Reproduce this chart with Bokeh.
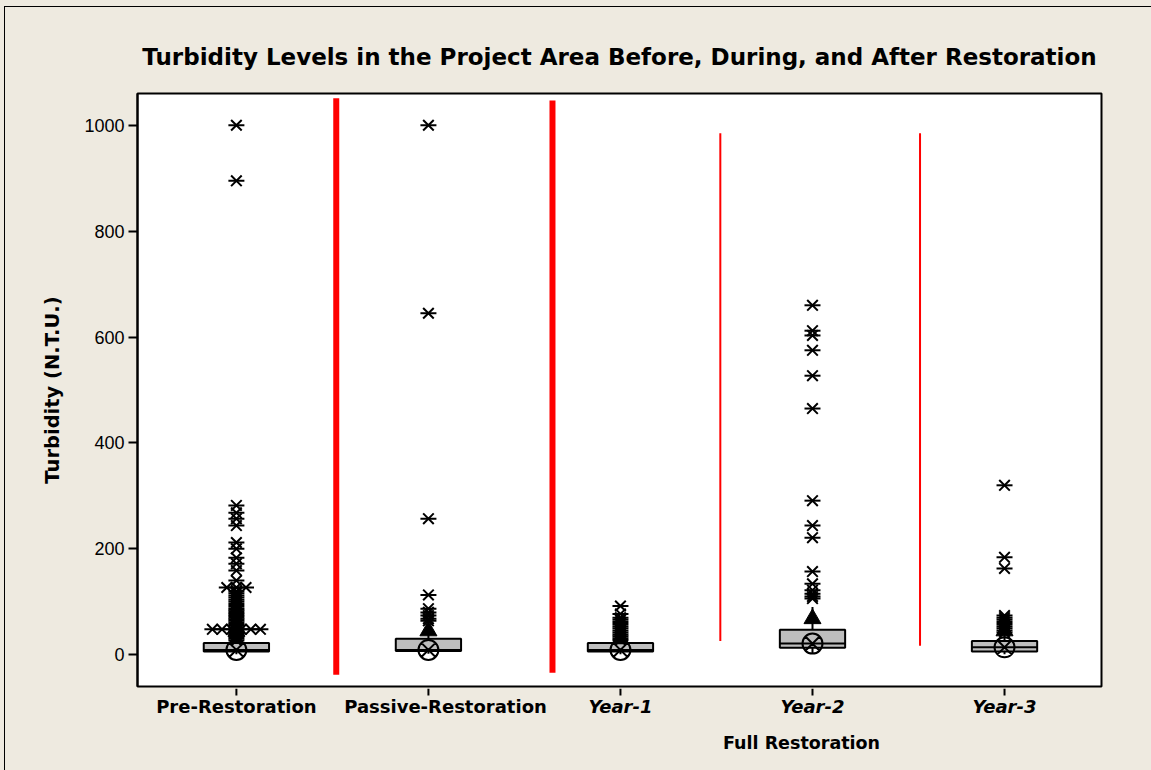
import math
from bokeh.plotting import figure
from bokeh.layouts import column, row
from bokeh.models import Range1d, FixedTicker, Spacer
from bokeh.core.properties import value
from bokeh.embed import file_html
from bokeh.resources import INLINE

# ---------------- data ----------------
groups = ["Pre-Restoration", "Passive-Restoration", "Year-1", "Year-2", "Year-3"]
group_italic = [False, False, True, True, True]

q1 = [6, 7, 6, 13, 6]
median = [9, 9, 9, 21, 14]
q3 = [22, 30, 22, 47, 26]
whisker_low = [1, 2, 1, 3, 1]
whisker_high = [46, 58, 26, 90, 40]
mean_vals = [44, 45, 30, 68, 45]

outliers_pre = [1000, 895, 282, 268, 257, 244, 212, 200, 183, 172, 159, 140,
                127, 127, 127, 120, 116, 112, 108, 104, 100, 96, 92, 88, 85,
                82, 79, 76, 73, 70, 67, 64, 61, 58, 55, 52,
                48, 48, 48, 48, 48, 48, 45, 42, 39, 36, 33, 30, 27]
outliers_passive = [1000, 645, 257, 113, 87, 80, 74, 68, 64]
outliers_year1 = [92, 77, 70, 66, 62, 58, 54, 50, 46, 42, 38, 35, 31, 28]
outliers_year2 = [660, 612, 603, 575, 527, 465, 291, 244, 221, 157, 134,
                  122, 115, 110, 106]
outliers_year3 = [320, 184, 163, 74, 70, 66, 62, 58, 54, 50, 46, 42]
outliers = [outliers_pre, outliers_passive, outliers_year1, outliers_year2, outliers_year3]

y_ticks = [0, 200, 400, 600, 800, 1000]

sep_x = [1.52, 2.646, 3.52, 4.56]
sep_y0 = [-38, -34, 26, 17]
sep_y1 = [1051, 1047, 985, 985]

title_text = "Turbidity Levels in the Project Area Before, During, and After Restoration"
y_title = "Turbidity (N.T.U.)"
group_title = "Full Restoration"
group_title_x = 3.943

# ---------------- styles ----------------
BG = "#EEEAE0"
BOX_FILL = "#BEBEBE"
FONT = "DejaVu Sans"
box_half = 0.17
tie_step = 0.05
sep_widths = [6, 6, 2, 2]
label_dx = [0, 0.089, 0, 0, 0]
W_IN = 1146
LEFT, RIGHT = 132, 50
TOP_H, MAIN_H, BOT_H = 85, 596, 82

xs = list(range(1, len(groups) + 1))
xr = Range1d(0.485, 5.505)

# ---------------- main plot ----------------
p = figure(width=W_IN, height=MAIN_H, output_backend="svg", toolbar_location=None,
           x_range=xr, y_range=Range1d(-60, 1060), x_axis_location=None,
           min_border_left=LEFT, min_border_right=RIGHT, min_border_top=1,
           min_border_bottom=2)
p.background_fill_color = "white"
p.border_fill_color = BG
p.outline_line_color = "black"
p.outline_line_width = 2
p.xgrid.visible = False
p.ygrid.visible = False

p.yaxis.ticker = FixedTicker(ticks=y_ticks)
p.yaxis.major_label_text_font = "Liberation Sans"
p.yaxis.major_label_text_font_size = "18px"
p.yaxis.major_label_text_color = "black"
p.yaxis.major_tick_out = 9
p.yaxis.major_tick_in = 0
p.yaxis.minor_tick_line_color = None
p.yaxis.major_label_standoff = 4
p.yaxis.axis_line_width = 2
p.yaxis.major_tick_line_width = 2
p.yaxis.axis_label = y_title
p.yaxis.axis_label_text_font = FONT
p.yaxis.axis_label_text_font_style = "bold"
p.yaxis.axis_label_text_font_size = "19.5px"
p.yaxis.axis_label_text_color = "black"
p.yaxis.axis_label_standoff = 17

p.segment(x0=sep_x, y0=sep_y0, x1=sep_x, y1=sep_y1, line_color="#FF0000",
          line_width=sep_widths)

p.segment(x0=xs, y0=q3, x1=xs, y1=whisker_high, line_color="black", line_width=2)
p.segment(x0=xs, y0=q1, x1=xs, y1=whisker_low, line_color="black", line_width=2)

p.quad(left=[x - box_half for x in xs], right=[x + box_half for x in xs],
       bottom=q1, top=q3, fill_color=BOX_FILL, line_color="black", line_width=2)
p.segment(x0=[x - box_half for x in xs], x1=[x + box_half for x in xs],
          y0=median, y1=median, line_color="black", line_width=2)

ox, oy = [], []
for x, vals in zip(xs, outliers):
    counts = {}
    for v in vals:
        counts[v] = counts.get(v, 0) + 1
    seen = {}
    for v in vals:
        n = counts[v]
        k = seen.get(v, 0)
        seen[v] = k + 1
        ox.append(x + (k - (n - 1) / 2) * tie_step)
        oy.append(v)
p.scatter(ox, oy, marker="x", size=15, line_color="black", line_width=2)
p.scatter(ox, oy, marker="dash", size=16, line_color="black", line_width=2)

p.scatter(xs, mean_vals, marker="triangle", size=17, fill_color="black", line_color="black")
p.scatter(xs, median, marker="circle_x", size=20, fill_alpha=0, line_color="black", line_width=2)

# ---------------- title strip ----------------
t = figure(width=W_IN, height=TOP_H, output_backend="svg", toolbar_location=None,
           x_range=xr, y_range=Range1d(0, TOP_H), x_axis_location=None,
           y_axis_location=None, min_border_left=LEFT, min_border_right=RIGHT,
           min_border_top=0, min_border_bottom=0)
t.background_fill_color = BG
t.border_fill_color = BG
t.outline_line_color = None
t.grid.visible = False
t.text(x=[(xr.start + xr.end) / 2], y=[36], text=[title_text],
       text_align="center", text_baseline="middle", text_font=value(FONT),
       text_font_style="bold", text_font_size="23px", text_color="black")

# ---------------- category strip ----------------
b = figure(width=W_IN, height=BOT_H, output_backend="svg", toolbar_location=None,
           x_range=xr, y_range=Range1d(0, BOT_H), x_axis_location=None,
           y_axis_location=None, min_border_left=LEFT, min_border_right=RIGHT,
           min_border_top=0, min_border_bottom=0)
b.background_fill_color = BG
b.border_fill_color = BG
b.outline_line_color = None
b.grid.visible = False
b.segment(x0=xs, x1=xs, y0=[BOT_H] * len(xs), y1=[BOT_H - 7] * len(xs),
          line_color="black", line_width=2)
for x, g, it, dx in zip(xs, groups, group_italic, label_dx):
    b.text(x=[x + dx], y=[BOT_H - 18], text=[g], text_align="center",
           text_baseline="middle", text_font=value(FONT),
           text_font_style="bold italic" if it else "bold",
           text_font_size="18px", text_color="black")
b.text(x=[group_title_x], y=[BOT_H - 54], text=[group_title], text_align="center",
       text_baseline="middle", text_font=value(FONT), text_font_style="bold",
       text_font_size="17.5px", text_color="black")

# ---------------- frame of the picture ----------------
bg = {"background-color": BG}
blk = {"background-color": "black"}
inner = column(Spacer(width=W_IN, height=1, styles=blk), t, p, b, spacing=0)
layout = column(
    Spacer(width=1151, height=6, styles=bg),
    row(Spacer(width=4, height=764, styles=bg), Spacer(width=1, height=764, styles=blk),
        inner, spacing=0),
    spacing=0)
layout.styles = bg
open("out.html", "w").write(file_html(layout, INLINE))
